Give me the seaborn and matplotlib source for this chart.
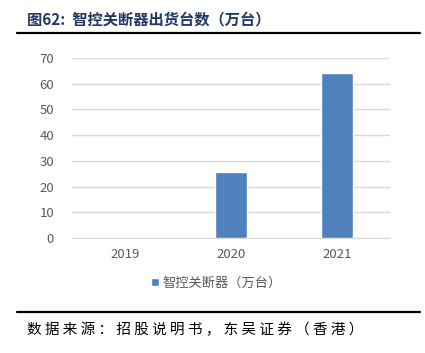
import matplotlib
matplotlib.use("Agg")
import matplotlib.pyplot as plt
import seaborn as sns
import pandas as pd

# Chart data
years = ["2019", "2020", "2021"]
shipments = [0, 25.6, 64.3]
series_name = "智控关断器（万台）"
y_ticks = [0, 10, 20, 30, 40, 50, 60, 70]

sns.set_style("white")
plt.rcParams['font.family'] = ['Noto Sans CJK SC', 'DejaVu Sans']

df = pd.DataFrame({"year": years, "value": shipments, "series": series_name})

fig = plt.figure(figsize=(4.25, 3.53), dpi=100)
ax = fig.add_axes([72 / 425, 1 - 238 / 353, 318 / 425, 180 / 353])

sns.barplot(data=df, x="year", y="value", hue="series", palette=["#4f81bd"],
            saturation=1, width=0.31, ax=ax, legend=True)

ax.set_ylim(0, 70)
ax.set_yticks(y_ticks)
ax.set_xlim(-0.5, 2.5)
ax.yaxis.grid(True, color="#d9d9d9", linewidth=1)
ax.set_axisbelow(True)
for s in ["top", "right", "left"]:
    ax.spines[s].set_visible(False)
ax.spines["bottom"].set_color("#d9d9d9")
ax.tick_params(axis="both", length=0, colors="#595959", labelsize=9.5)
ax.tick_params(axis="y", pad=13)
ax.tick_params(axis="x", pad=7)
ax.set_xlabel("")
ax.set_ylabel("")

# legend sits a bit left of centre in the original
leg = ax.legend(loc="upper center", bbox_to_anchor=(0.455, -0.15), frameon=False,
                fontsize=9.5, handlelength=0.55, handleheight=0.55, handletextpad=0.3)
for t in leg.get_texts():
    t.set_color("#595959")

# Title, rules and source note
fig.text(27 / 425, 1 - 19 / 353, "图62:  智控关断器出货台数（万台）", fontsize=11,
         fontweight="bold", color="#1f3864", va="center")
fig.add_artist(plt.Line2D([17 / 425, 420 / 425], [1 - 33 / 353] * 2, color="black", linewidth=1.6))
fig.add_artist(plt.Line2D([17 / 425, 420 / 425], [1 - 312 / 353] * 2, color="black", linewidth=1.6))
fig.text(27 / 425, 1 - 330 / 353, " ".join("数据来源：招股说明书，东吴证券（香港）"), fontsize=10.5,
         color="black", va="center")

fig.savefig("out.png", dpi=100)
